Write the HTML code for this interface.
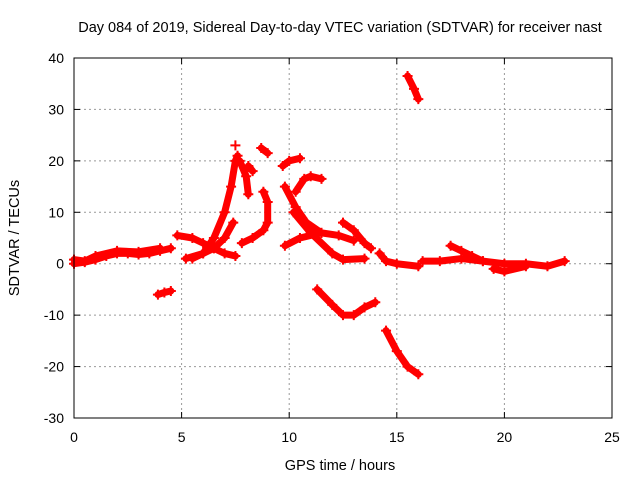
<!DOCTYPE html>
<html><head><meta charset="utf-8"><style>
body{margin:0;background:#fff}
svg{display:block;font-family:"Liberation Sans",sans-serif}
</style></head><body>
<svg id="chart" width="640" height="480">
<text x="340" y="32" text-anchor="middle" font-size="14.5">Day 084 of 2019, Sidereal Day-to-day VTEC variation (SDTVAR) for receiver nast</text>
<text x="340" y="470" text-anchor="middle" font-size="14.5">GPS time / hours</text>
<text transform="translate(19,238) rotate(-90)" text-anchor="middle" font-size="14.5">SDTVAR / TECUs</text>
<g id="grid"></g><g id="marks"></g>
<rect x="74" y="58" width="538" height="360" fill="none" stroke="#000"/>
</svg>
<script>
const xTicks=[0,5,10,15,20,25];
const yTicks=[-30,-20,-10,0,10,20,30,40];
const tracks=[
[[0,0],[0.5,0.3],[1,0.8],[1.5,1.5],[2,2],[2.5,2],[3,1.8],[3.5,2],[4,2.5],[4.5,3]],
[[0,0.8],[0.5,0.5],[1,1.5],[2,2.5],[3,2.3],[4,3]],
[[3.9,-6],[4.2,-5.6],[4.5,-5.3]],
[[4.8,5.5],[5.5,5],[6,4],[6.5,3],[7,2],[7.5,1.5]],
[[5.5,1],[6,2],[6.5,5],[7,10],[7.3,15],[7.5,20],[7.6,21]],
[[7.5,23]],
[[7.7,20],[8,17],[8.1,13.5]],
[[5.2,1],[6,2],[6.5,3],[7,5],[7.4,8]],
[[7.8,4],[8.3,5],[8.8,6.5],[9,8],[9,12],[8.8,14]],
[[8.1,19],[8.3,18]],
[[8.7,22.5],[9,21.5]],
[[9.7,19],[10,20],[10.5,20.5]],
[[9.8,15],[10.3,11],[10.8,8],[11.5,6],[12.3,5.5],[13,4.5]],
[[10.3,14],[10.7,16.5],[11,17],[11.5,16.5]],
[[10.2,10],[11,6],[12,2],[12.5,0.8],[13.5,1]],
[[9.8,3.5],[10.5,5],[11.5,6]],
[[12.5,8],[13,6.5],[13.5,4],[13.8,3]],
[[11.3,-5],[12,-8],[12.5,-10],[13,-10],[13.5,-8.5],[14,-7.5]],
[[14.5,-13],[15,-17],[15.5,-20],[16,-21.5]],
[[15.5,36.5],[15.8,34],[16,32]],
[[14.2,2],[14.5,0.5],[15,0],[16,-0.5]],
[[16.2,0.5],[17,0.5],[18,1],[19,0.5],[20,0],[21,0],[22,-0.5],[22.8,0.5]],
[[17.5,3.5],[18,2.5],[18.5,1.5],[19,0.5]],
[[19.5,-1],[20,-1.5],[21,-0.5]]
];
const X=v=>74+v*(538/25), Y=v=>418-(v+30)*(360/70);
const NS="http://www.w3.org/2000/svg";
const grid=document.getElementById('grid'), marks=document.getElementById('marks');
function mk(t,a,p){const e=document.createElementNS(NS,t);for(const k in a)e.setAttribute(k,a[k]);p.appendChild(e);return e;}
xTicks.forEach(t=>{
 if(t>0&&t<25){const l=mk('line',{x1:X(t),x2:X(t),y1:58,y2:418,stroke:'#999','stroke-dasharray':'2,3'},grid);
 }
 mk('line',{x1:X(t),x2:X(t),y1:418,y2:412,stroke:'#000'},grid);
 mk('line',{x1:X(t),x2:X(t),y1:58,y2:64,stroke:'#000'},grid);
 const tx=mk('text',{x:X(t),y:442,'text-anchor':'middle','font-size':14},grid);tx.textContent=t;
 
});
yTicks.forEach(t=>{
 if(t>-30&&t<40){const l=mk('line',{x1:74,x2:612,y1:Y(t),y2:Y(t),stroke:'#999','stroke-dasharray':'2,3'},grid);
 }
 mk('line',{x1:74,x2:80,y1:Y(t),y2:Y(t),stroke:'#000'},grid);
 mk('line',{x1:612,x2:606,y1:Y(t),y2:Y(t),stroke:'#000'},grid);
 const tx=mk('text',{x:64,y:Y(t)+5,'text-anchor':'end','font-size':14},grid);tx.textContent=t;
 
});
tracks.forEach(tr=>{
 const pl=mk('polyline',{points:tr.map(p=>X(p[0])+','+Y(p[1])).join(' '),fill:'none',stroke:'#f00','stroke-width':7,'stroke-linejoin':'round','stroke-linecap':'round'},marks);
 
 
 tr.forEach(p=>{
  const m=mk('path',{d:`M${X(p[0])-5},${Y(p[1])}h10M${X(p[0])},${Y(p[1])-5}v10`,stroke:'#f00','stroke-width':2},marks);
  
  
 });
});
</script>
</body></html>
